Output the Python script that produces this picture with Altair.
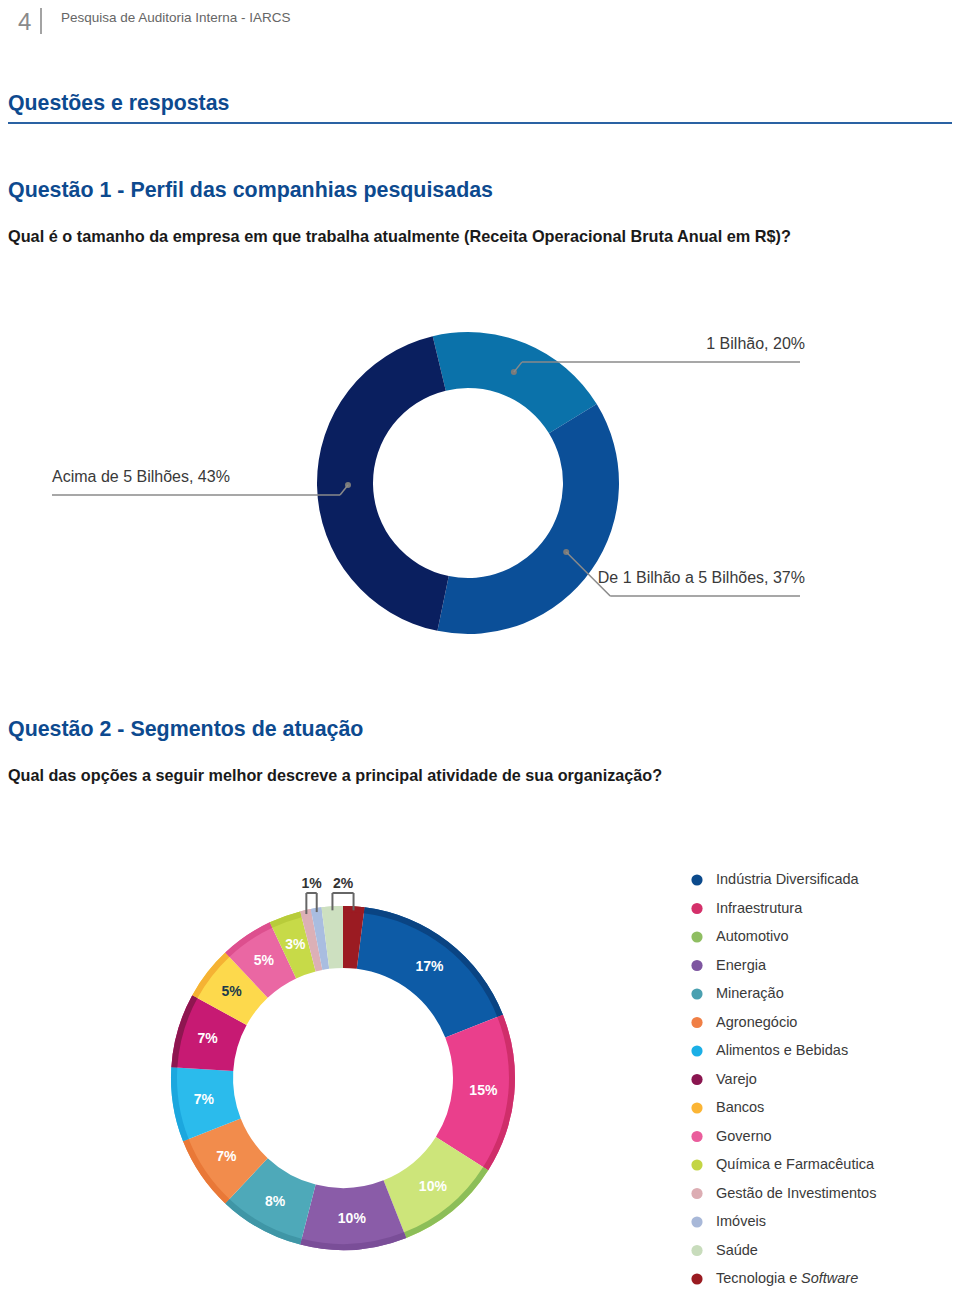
import math
import altair as alt
import pandas as pd

# ---------------- data ----------------
faixas = ["1 Bilhão", "De 1 Bilhão a 5 Bilhões", "Acima de 5 Bilhões"]
pct_faixas = [20, 37, 43]
cores_faixas = ["#0b72aa", "#0b4f98", "#0a1f5f"]

segmentos = [
    "Indústria Diversificada", "Infraestrutura", "Automotivo", "Energia",
    "Mineração", "Agronegócio", "Alimentos e Bebidas", "Varejo", "Bancos",
    "Governo", "Química e Farmacêutica", "Gestão de Investimentos", "Imóveis",
    "Saúde", "Tecnologia e Software",
]
pct_segmentos = [17, 15, 10, 10, 8, 7, 7, 7, 5, 5, 3, 1, 1, 2, 2]
# position around the ring, clockwise from 12 o'clock (Tecnologia first)
ordem_anel = [1, 2, 3, 4, 5, 6, 7, 8, 9, 10, 11, 12, 13, 14, 0]
cores_fatia = ["#0d5ba6", "#ea3f8c", "#cde57a", "#8a5ca8", "#4ea9b9", "#f28c4c",
               "#2bbbec", "#c71a73", "#fdd94c", "#ea67a3", "#c7da48", "#dcb0b6",
               "#a9bde0", "#cde0c0", "#9b1b22"]
cores_borda = ["#0a4483", "#cf2e6a", "#8cbe58", "#7a4e98", "#3f96a6", "#e97837",
               "#1ca7de", "#8e1650", "#f5b233", "#dd4f8e", "#b8cc3a", "#dcb0b6",
               "#a9bde0", "#cde0c0", "#9b1b22"]
cores_legenda = ["#0b4a8c", "#d4306a", "#8fbe62", "#7e56a0", "#4aa0b0", "#f07f45",
                 "#1bafe6", "#8a1650", "#fbb535", "#ea5d9c", "#c3d544", "#dcadb3",
                 "#a8b8d8", "#c8dcbc", "#9a1b21"]
cores_rotulo = ["white"] * 8 + ["#1b3a4b"] + ["white"] * 6

d1 = pd.DataFrame({"faixa": faixas, "pct": pct_faixas,
                   "ordem": list(range(len(faixas))), "cor": cores_faixas})
d2 = pd.DataFrame({"seg": segmentos, "pct": pct_segmentos, "anel": ordem_anel,
                   "cor": cores_fatia, "borda": cores_borda,
                   "cor_legenda": cores_legenda, "cor_rotulo": cores_rotulo})

# ---------------- layout constants ----------------
FONT = "Liberation Sans"
BLUE = "#0d4a8f"
CX1, CY1, RO1, RI1 = 460, 475, 151, 95
OFF1 = -0.236
CX2, CY2, RO2, RI2 = 335, 1070, 172, 110
W, H = 944, 1280


def page_text(txt, x, y, size, color, weight="normal", align="left", baseline="middle"):
    return alt.Chart(pd.DataFrame({"t": [txt]})).mark_text(
        align=align, baseline=baseline, font=FONT, fontSize=size,
        fontWeight=weight, color=color
    ).encode(text="t:N", x=alt.value(x), y=alt.value(y))


def hrule(x1, x2, y, color, w):
    return alt.Chart(pd.DataFrame({"a": [0]})).mark_rule(
        color=color, strokeWidth=w
    ).encode(x=alt.value(x1), x2=alt.value(x2), y=alt.value(y))


header = alt.layer(
    page_text("4", 10, 22, 24, "#8a8a8a", baseline="alphabetic"),
    alt.Chart(pd.DataFrame({"a": [0]})).mark_rule(color="#666", strokeWidth=1.2).encode(
        x=alt.value(33), y=alt.value(0), y2=alt.value(26)),
    page_text("Pesquisa de  Auditoria Interna - IARCS", 53, 10, 13.5, "#666"),
    page_text("Questões e respostas", 0, 96, 21.3, BLUE, "bold"),
    hrule(0, W, 115, "#2a62a3", 2),
    page_text("Questão 1 - Perfil das companhias pesquisadas", 0, 183, 21.4, BLUE, "bold"),
    page_text("Qual é o tamanho da empresa em que trabalha atualmente (Receita Operacional Bruta Anual em R$)?",
              0, 229, 16.3, "#1a1a1a", "bold"),
    page_text("Questão 2 - Segmentos de atuação", 0, 722, 21.4, BLUE, "bold"),
    page_text("Qual das opções a seguir melhor descreve a principal atividade de sua organização?",
              0, 768, 16.2, "#1a1a1a", "bold"),
)

# ---------------- donut 1 ----------------
base1 = alt.Chart(d1)
arcs1 = base1.mark_arc(radius=RO1, radius2=RI1).encode(
    theta=alt.Theta("pct:Q", stack=True,
                    scale=alt.Scale(range=[OFF1, OFF1 + 2 * math.pi])),
    order=alt.Order("ordem:Q"),
    color=alt.Color("cor:N", scale=None),
    x=alt.value(CX1), y=alt.value(CY1),
)

RDOT = 120
call = base1.transform_window(
    cum="sum(pct)", sort=[alt.SortField("ordem")], frame=[None, 0]
).transform_joinaggregate(total="sum(pct)").transform_calculate(
    mid=f"{OFF1} + 2*PI*(datum.cum - datum.pct/2)/datum.total"
).transform_calculate(
    side="sin(datum.mid) > 0 ? 1 : -1",
    vdir="cos(datum.mid) > 0 ? -1 : 1",
    dx=f"{CX1} + {RDOT}*sin(datum.mid)",
    dy=f"{CY1} - {RDOT}*cos(datum.mid)",
).transform_calculate(
    # leader drop: longer for the lower-right callout so its text clears the ring
    drop="(datum.side > 0 && datum.vdir > 0) ? 44 : 10",
).transform_calculate(
    ex="datum.dx + (datum.drop > 10 ? datum.drop : 8)*datum.side",
    ey="datum.dy + datum.drop*datum.vdir",
    lx="datum.side > 0 ? 792 : 44",
    tx="datum.side > 0 ? 797 : 44",
    label="datum.faixa + ', ' + datum.pct + '%'",
).transform_calculate(ty="datum.ey - 18")

GREY = "#8a8a8a"
dots1 = call.mark_circle(size=36, color="#7a7a7a", opacity=1).encode(
    x=alt.X("dx:Q", scale=None), y=alt.Y("dy:Q", scale=None))
diag1 = call.mark_rule(color=GREY, strokeWidth=1.5).encode(
    x=alt.X("dx:Q", scale=None), y=alt.Y("dy:Q", scale=None),
    x2="ex:Q", y2="ey:Q")
horiz1 = call.mark_rule(color=GREY, strokeWidth=1.5).encode(
    x=alt.X("ex:Q", scale=None), x2="lx:Q", y=alt.Y("ey:Q", scale=None))
txt_r = call.transform_filter("datum.side > 0").mark_text(
    align="right", baseline="middle", font=FONT, fontSize=16, color="#3a3a3a"
).encode(x=alt.X("tx:Q", scale=None), y=alt.Y("ty:Q", scale=None), text="label:N")
txt_l = call.transform_filter("datum.side < 0").mark_text(
    align="left", baseline="middle", font=FONT, fontSize=16, color="#3a3a3a"
).encode(x=alt.X("tx:Q", scale=None), y=alt.Y("ty:Q", scale=None), text="label:N")

# ---------------- donut 2 ----------------
base2 = alt.Chart(d2)
theta2 = alt.Theta("pct:Q", stack=True)
arcs2 = base2.mark_arc(radius=RO2, radius2=RI2).encode(
    theta=theta2, order=alt.Order("anel:Q"),
    color=alt.Color("cor:N", scale=None),
    x=alt.value(CX2), y=alt.value(CY2),
)
rim2 = base2.mark_arc(radius=RO2, radius2=RO2 - 6).encode(
    theta=theta2, order=alt.Order("anel:Q"),
    color=alt.Color("borda:N", scale=None),
    x=alt.value(CX2), y=alt.value(CY2),
)
lab2 = base2.transform_calculate(
    rot="datum.pct >= 3 ? datum.pct + '%' : ''"
).mark_text(radius=(RO2 + RI2) / 2, font=FONT, fontSize=14, fontWeight="bold").encode(
    theta=theta2, order=alt.Order("anel:Q"), text="rot:N",
    color=alt.Color("cor_rotulo:N", scale=None),
    x=alt.value(CX2), y=alt.value(CY2),
)

br = base2.transform_window(
    cum="sum(pct)", sort=[alt.SortField("anel")], frame=[None, 0]
).transform_joinaggregate(total="sum(pct)").transform_calculate(
    mid="2*PI*(datum.cum - datum.pct/2)/datum.total"
).transform_calculate(
    bx=f"{CX2} + 168*sin(datum.mid)",
    by=f"{CY2} - 168*cos(datum.mid)",
    ty=f"{CY2} - 185",
).transform_filter("datum.pct <= 2")

br_v = br.mark_rule(color="#666", strokeWidth=2).encode(
    x=alt.X("bx:Q", scale=None), y=alt.Y("by:Q", scale=None), y2="ty:Q")
br_agg = br.transform_aggregate(
    x0="min(bx)", x1="max(bx)", xm="mean(bx)", ty="min(ty)", groupby=["pct"]
).transform_calculate(t="datum.pct + '%'")
br_h = br_agg.mark_rule(color="#666", strokeWidth=2).encode(
    x=alt.X("x0:Q", scale=None), x2="x1:Q", y=alt.Y("ty:Q", scale=None))
br_t = br_agg.mark_text(baseline="bottom", dy=-2, font=FONT, fontSize=14,
                        fontWeight="bold", color="#333").encode(
    x=alt.X("xm:Q", scale=None), y=alt.Y("ty:Q", scale=None), text="t:N")

# ---------------- legend ----------------
ly = alt.Y("seg:N", scale=alt.Scale(type="point", domain=segmentos,
                                    range=[872, 1271], padding=0), axis=None)
leg_dot = base2.mark_circle(size=125, opacity=1).encode(
    x=alt.value(689), y=ly, color=alt.Color("cor_legenda:N", scale=None))
leg_txt = base2.transform_calculate(
    nome="datum.seg == 'Tecnologia e Software' ? 'Tecnologia e' : datum.seg"
).mark_text(align="left", baseline="middle", font=FONT, fontSize=14.5,
            color="#3a3a3a").encode(x=alt.value(708), y=ly, text="nome:N")
leg_it = base2.transform_filter("datum.seg == 'Tecnologia e Software'").transform_calculate(
    nome="'Software'"
).mark_text(align="left", baseline="middle", font=FONT, fontSize=14.5,
            fontStyle="italic", color="#3a3a3a", dx=85).encode(
    x=alt.value(708), y=ly, text="nome:N")

chart = alt.layer(
    header,
    arcs1, dots1, diag1, horiz1, txt_r, txt_l,
    arcs2, rim2, lab2, br_v, br_h, br_t,
    leg_dot, leg_txt, leg_it,
).resolve_scale(theta="independent").properties(
    width=W, height=H, padding=0, autosize="none",
    background="white",
).configure_view(stroke=None)

chart.save("out.html", embed_options={"renderer": "svg", "actions": False})
